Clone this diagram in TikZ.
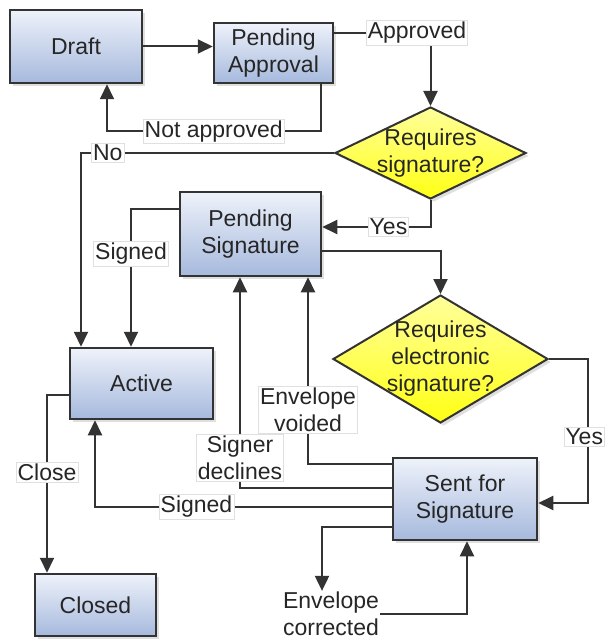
\documentclass[tikz,border=0pt]{standalone}
\usepackage{fontspec}
\setmainfont{Liberation Sans}
\usetikzlibrary{arrows.meta,shapes.geometric,shadows}

\definecolor{boxtop}{HTML}{EEF2FA}
\definecolor{boxbottom}{HTML}{A6B9DD}
\definecolor{diatop}{HTML}{FFFF9C}
\definecolor{diabottom}{HTML}{FFFF14}
\definecolor{edge}{HTML}{333333}

\tikzset{
  state/.style={rectangle, draw=edge, line width=2.5pt, top color=boxtop, bottom color=boxbottom,
    align=center, inner sep=3pt, drop shadow={opacity=0.25, shadow xshift=3pt, shadow yshift=-3pt}},
  decision/.style={diamond, draw=edge, line width=2pt, top color=diatop, bottom color=diabottom,
    inner sep=0pt, drop shadow={opacity=0.25, shadow xshift=3pt, shadow yshift=-3pt}},
  flow/.style={draw=edge, line width=2pt, -{Triangle[length=15pt,width=14pt]}},
  tag/.style={fill=white, draw=black!12, line width=0.6pt, inner sep=1.5pt, align=center}
}

\begin{document}
\begin{tikzpicture}[x=1pt, y=-1pt, font=\fontsize{23}{27}\selectfont, text=black!85]
    \useasboundingbox (0,0) rectangle (605,644);

    % Draw the states
    \node[state, minimum width=132pt, minimum height=73pt] (draft) at (76,46.5) {Draft};
    \node[state, minimum width=119pt, minimum height=60pt] (pa) at (273.5,53) {Pending\\Approval};
    \node[state, minimum width=141pt, minimum height=84pt] (ps) at (250.5,234) {Pending\\Signature};
    \node[state, minimum width=143pt, minimum height=71pt] (active) at (141.5,383.5) {Active};
    \node[state, minimum width=121pt, minimum height=62pt] (closed) at (95.5,605) {Closed};
    \node[state, minimum width=144pt, minimum height=82pt] (sent) at (465,499) {Sent for\\Signature};

    % Draw the decisions
    \node[decision, minimum width=191pt, minimum height=92pt,
      label={[name=rs-text, align=center]center:Requires\\signature?}] (rs) at (430.5,153) {};
    \node[decision, minimum width=215pt, minimum height=128pt,
      label={[name=res-text, align=center]center:Requires\\electronic\\signature?}] (res) at (440.5,359) {};

    % Approval loop
    \draw[flow] (draft.east) -- (draft.east -| pa.west);
    \draw[flow] ([yshift=20pt]pa.east) -| node[tag, pos=0.43] (approved) {Approved} (rs.north);
    \draw[flow] ([xshift=47pt]pa.south) -- ++(0,47) -| node[tag, pos=0.25] (notapproved) {Not approved} ([xshift=31pt]draft.south);

    % Signature decision
    \draw[flow] (rs.west) -| node[tag, pos=0.447] (no) {No} ([xshift=-60.5pt]active.north);
    \draw[flow] (rs.south) |- node[tag, pos=0.694] (yes1) {Yes} ([yshift=7pt]ps.east);
    \draw[flow] ([yshift=25pt]ps.west) -| node[tag, pos=0.662] (signed1) {Signed} ([xshift=-10.5pt]active.north);
    \draw[flow] ([yshift=-17pt]ps.east) -| (res.north);
    \draw[flow] (res.east) -| node[tag, pos=0.771, xshift=-4pt] (yes2) {Yes} ([xshift=50pt,yshift=-4pt]sent.east) -- ([yshift=-4pt]sent.east);

    % Closing
    \draw[flow] ([yshift=-11.5pt]active.west) -| node[tag, pos=0.718] (close) {Close} ([xshift=-48.5pt]closed.north);

    % Results of sending
    \draw[flow] ([yshift=-8pt]sent.west) -| node[tag, pos=0.329] (signed2) {Signed} ([xshift=-46.5pt]active.south);
    \draw[flow] ([yshift=11pt]sent.west) -| node[tag, pos=0.571] (declines) {Signer\\declines} ([xshift=-10.5pt]ps.south);
    \draw[flow] ([yshift=35pt]sent.west) -| node[tag, pos=0.644] (voided) {Envelope\\voided} ([xshift=57.5pt]ps.south);

    % Envelope corrected
    \node[align=center, inner sep=1pt] (corrected) at (331,614) {Envelope\\corrected};
    \draw[flow] ([yshift=-28pt]sent.west) -| ([xshift=-9pt]corrected.north);
    \draw[flow] (corrected.east) -| ([xshift=2pt]sent.south);

\end{tikzpicture}
\end{document}
